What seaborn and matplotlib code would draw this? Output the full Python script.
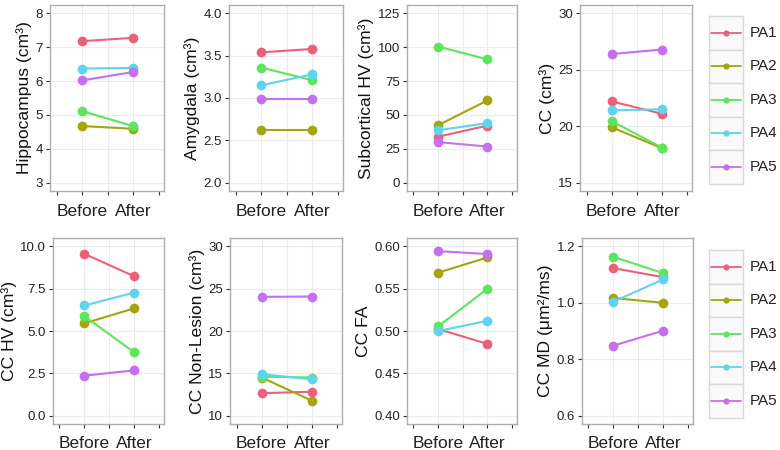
import matplotlib
matplotlib.use('Agg')
import matplotlib.pyplot as plt
import pandas as pd
import seaborn as sns

# Valores
patients = ['PA1', 'PA2', 'PA3', 'PA4', 'PA5']
phases = ['Before', 'After']

hippocampus_before = [7.18, 4.67, 5.11, 6.37, 6.02]
hippocampus_after = [7.28, 4.59, 4.67, 6.39, 6.27]

amygdala_before = [3.54, 2.62, 3.36, 3.15, 2.99]
amygdala_after = [3.58, 2.62, 3.21, 3.28, 2.99]

subcortical_before = [33.9, 42.4, 100.5, 38.6, 29.9]
subcortical_after = [42.1, 60.7, 91.1, 44.0, 26.6]

cc_before = [22.2, 19.9, 20.45, 21.4, 26.4]
cc_after = [21.1, 18.05, 18.1, 21.5, 26.8]

cc_hv_before = [9.56, 5.45, 5.88, 6.51, 2.36]
cc_hv_after = [8.24, 6.34, 3.74, 7.27, 2.67]

cc_nonlesion_before = [12.64, 14.5, 14.6, 14.9, 24.04]
cc_nonlesion_after = [12.82, 11.76, 14.5, 14.28, 24.08]

cc_fa_before = [0.5023, 0.569, 0.5055, 0.500, 0.5945]
cc_fa_after = [0.4848, 0.587, 0.550, 0.512, 0.591]

cc_md_before = [1.123, 1.017, 1.1635, 1.004, 0.848]
cc_md_after = [1.091, 1.0, 1.105, 1.083, 0.901]

colors = ['#EE5F78', '#A3A60C', '#5CE65C', '#5DD4F0', '#C66FF0']
palette = dict(zip(patients, colors))

panels = [
    ('Hippocampus (cm³)', hippocampus_before, hippocampus_after, [3, 4, 5, 6, 7, 8], '{:.0f}'),
    ('Amygdala (cm³)', amygdala_before, amygdala_after, [2.0, 2.5, 3.0, 3.5, 4.0], '{:.1f}'),
    ('Subcortical HV (cm³)', subcortical_before, subcortical_after, [0, 25, 50, 75, 100, 125], '{:.0f}'),
    ('CC (cm³)', cc_before, cc_after, [15, 20, 25, 30], '{:.0f}'),
    ('CC HV (cm³)', cc_hv_before, cc_hv_after, [0.0, 2.5, 5.0, 7.5, 10.0], '{:.1f}'),
    ('CC Non-Lesion (cm³)', cc_nonlesion_before, cc_nonlesion_after, [10, 15, 20, 25, 30], '{:.0f}'),
    ('CC FA', cc_fa_before, cc_fa_after, [0.40, 0.45, 0.50, 0.55, 0.60], '{:.2f}'),
    ('CC MD (μm²/ms)', cc_md_before, cc_md_after, [0.6, 0.8, 1.0, 1.2], '{:.1f}'),
]

# posições dos painéis em pixels (esquerda, direita, topo, base)
boxes = [
    (50, 164, 5, 191), (229, 343, 5, 191), (407, 517, 5, 191), (580, 692, 5, 191),
    (53, 164, 238, 424), (230, 342, 238, 424), (407, 517, 238, 424), (582, 693, 238, 424),
]

sns.set_style('white')
plt.rcParams['font.family'] = ['Liberation Sans', 'DejaVu Sans']

W, H = 780, 450
fig = plt.figure(figsize=(W / 100, H / 100), dpi=100)
frame_col = '#A8B0B0'
grid_col = '#EBEBEB'
text_col = '#222222'

for (label, before, after, yticks, fmt), (x0, x1, y0, y1) in zip(panels, boxes):
    ax = fig.add_axes([x0 / W, 1 - y1 / H, (x1 - x0) / W, (y1 - y0) / H])
    df = pd.DataFrame({
        'patient': patients * 2,
        'phase': [phases[0]] * 5 + [phases[1]] * 5,
        'value': before + after,
    })
    sns.lineplot(data=df, x='phase', y='value', hue='patient', palette=palette,
                 marker='o', markersize=7, markeredgewidth=0, linewidth=1.5,
                 legend=False, ax=ax, sort=False)
    ax.set_xlim(-0.63, 1.6)
    span = yticks[-1] - yticks[0]
    ax.set_ylim(yticks[0] - 0.05 * span, yticks[-1] + 0.05 * span)
    ax.set_xticks([0, 0.5, 1])
    ax.set_xticklabels(['Before', '', 'After'], fontsize=12.5, color=text_col)
    ax.set_xticks([-0.5, 1.5], minor=True)
    ax.set_yticks(yticks)
    ax.set_yticklabels([fmt.format(t) for t in yticks], fontsize=9.5, color=text_col)
    ax.tick_params(which='both', bottom=True, left=True, length=3, width=0.8,
                   color='#333333')
    ax.tick_params(axis='x', pad=6)
    ax.tick_params(axis='y', pad=2)
    ax.grid(True, which='major', color=grid_col, linewidth=0.8)
    ax.set_axisbelow(True)
    for s in ax.spines.values():
        s.set_color(frame_col)
        s.set_linewidth(1.0)
    ax.set_xlabel('')
    ax.set_ylabel(label, fontsize=12.6, labelpad=2.5, color='#111111')

# legendas no estilo ggplot (uma caixa por paciente)
for top in (16, 250):
    for i, (name, col) in enumerate(zip(patients, colors)):
        ky = top + i * 33.5
        lax = fig.add_axes([709 / W, 1 - (ky + 33.5) / H, 34 / W, 33.5 / H])
        lax.plot([0, 0.5, 1], [0, 0, 0], color=col, linewidth=1.3,
                 marker='o', markersize=4.5, markevery=[1], markeredgewidth=0)
        lax.set_xlim(-0.08, 1.08)
        lax.set_ylim(-1, 1)
        lax.set_xticks([])
        lax.set_yticks([])
        lax.set_facecolor('#FAFAFA')
        for s in lax.spines.values():
            s.set_color('#D9D9D9')
            s.set_linewidth(1.0)
        fig.text(750 / W, 1 - (ky + 16.75) / H, name, fontsize=11,
                 va='center', ha='left', color=text_col)

fig.savefig('out.png', dpi=100)
